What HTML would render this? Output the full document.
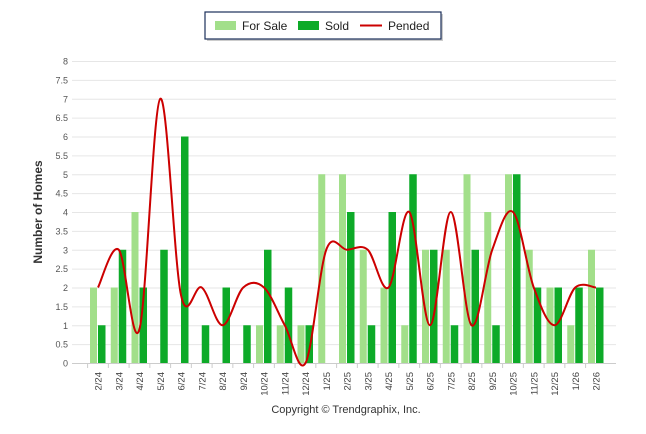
<!DOCTYPE html>
<html><head><meta charset="utf-8"><style>
body{margin:0;background:#fff;font-family:"Liberation Sans",sans-serif;}
svg{display:block}
</style></head><body>
<svg id="c" width="646" height="434" xmlns="http://www.w3.org/2000/svg">
<g>
<rect x="207" y="14" width="236" height="27" fill="#999" opacity="0.5"/>
<rect x="205" y="12" width="236" height="27" fill="#fff" stroke="#1b2f5a" stroke-width="1.2"/>
<rect x="215" y="21" width="21" height="9" fill="#a2df8a"/>
<text x="242" y="30" font-size="12" fill="#222">For Sale</text>
<rect x="298" y="21" width="21" height="9" fill="#0daa28"/>
<text x="325" y="30" font-size="12" fill="#222">Sold</text>
<line x1="360" y1="25.5" x2="382" y2="25.5" stroke="#cc0000" stroke-width="2"/>
<text x="388" y="30" font-size="12" fill="#222">Pended</text>
</g>
<text transform="translate(42,212) rotate(-90)" text-anchor="middle" font-size="12" font-weight="bold" fill="#333">Number of Homes</text>
<text x="346" y="413" text-anchor="middle" font-size="11" fill="#333">Copyright © Trendgraphix, Inc.</text>
<g id="grid"></g><g id="bars"></g><g id="line"></g><g id="xl"></g>
</svg>
<script>
const categories=["2/24","3/24","4/24","5/24","6/24","7/24","8/24","9/24","10/24","11/24","12/24","1/25","2/25","3/25","4/25","5/25","6/25","7/25","8/25","9/25","10/25","11/25","12/25","1/26","2/26"];
const forSale=[2,2,4,0,0,0,0,0,1,1,1,5,5,3,2,1,3,3,5,4,5,3,2,1,3];
const sold=[1,3,2,3,6,1,2,1,3,2,1,0,4,1,4,5,3,1,3,1,5,2,2,2,2];
const pended=[2,3,0.9,7,1.8,2,1,2,2,1,0,3,3,3,2,4,1,4,1,3,4,2,1,2,2];
const yTicks=["0","0.5","1","1.5","2","2.5","3","3.5","4","4.5","5","5.5","6","6.5","7","7.5","8"];
const NS="http://www.w3.org/2000/svg";
const y=v=>363-v*37.75;
const x=i=>98+i*20.75;
function mk(t,a,p){const e=document.createElementNS(NS,t);for(const k in a)e.setAttribute(k,a[k]);p.appendChild(e);return e;}
const grid=document.getElementById('grid');
yTicks.forEach(t=>{const v=parseFloat(t);
 const l=mk('line',{x1:72,x2:616,y1:y(v)+0.5,y2:y(v)+0.5,stroke:v===0?'#ccc':'#e6e6e6'},grid);
 
 
 const tx=mk('text',{x:68,y:y(v)+3.5,'text-anchor':'end','font-size':'9',fill:'#555'},grid);tx.textContent=t;
 
 });
const bars=document.getElementById('bars'),xl=document.getElementById('xl');
categories.forEach((c,i)=>{
 const a=mk('rect',{x:x(i)-8,y:y(forSale[i]),width:7,height:forSale[i]*37.75,fill:'#a2df8a'},bars);
 
 
 const b=mk('rect',{x:x(i),y:y(sold[i]),width:7.5,height:sold[i]*37.75,fill:'#0daa28'},bars);
 
 
 const tk=mk('line',{x1:x(i)-10.4,x2:x(i)-10.4,y1:364,y2:368,stroke:'#ccc'},xl);
 
 
 const t=mk('text',{transform:`translate(${x(i)+3.5},372) rotate(-90)`,'text-anchor':'end','font-size':'9.5',fill:'#444'},xl);t.textContent=c;
 
 
});
const P=pended.map((v,i)=>[x(i),y(v)]);
let d=`M${P[0][0]},${P[0][1]}`;
for(let i=0;i<P.length-1;i++){const p0=P[Math.max(0,i-1)],p1=P[i],p2=P[i+1],p3=P[Math.min(P.length-1,i+2)];
 d+=` C${p1[0]+(p2[0]-p0[0])/6},${p1[1]+(p2[1]-p0[1])/6} ${p2[0]-(p3[0]-p1[0])/6},${p2[1]-(p3[1]-p1[1])/6} ${p2[0]},${p2[1]}`;}
const ln=mk('path',{d:d,fill:'none',stroke:'#cc0000','stroke-width':2},document.getElementById('line'));


</script>
</body></html>
